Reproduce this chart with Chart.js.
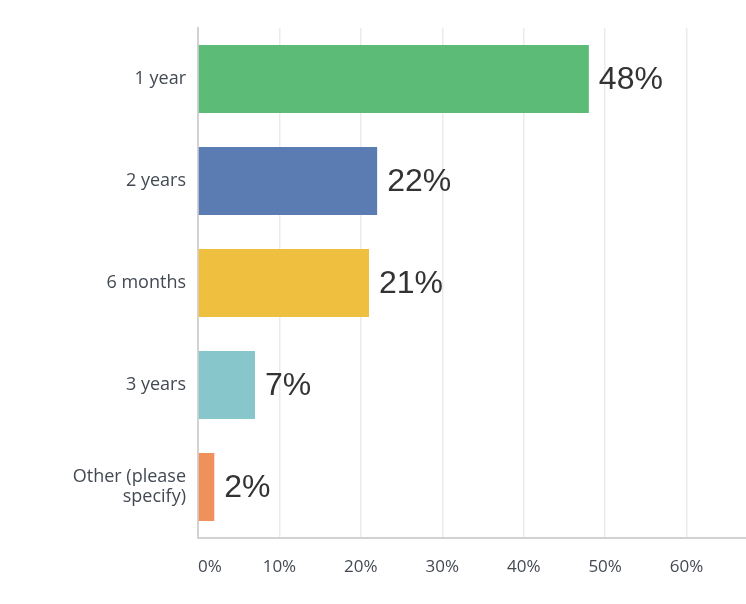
<!DOCTYPE html>
<html>
<head>
<meta charset="utf-8">
<script src="https://cdn.jsdelivr.net/npm/chart.js@4/dist/chart.umd.min.js"></script>
<style>
  html, body { margin: 0; padding: 0; background: #fff; }
  #wrap { width: 746px; height: 604px; position: relative; }
</style>
</head>
<body>
<div id="wrap"><canvas id="c" width="746" height="604"></canvas></div>
<script>
const categories = ["1 year", "2 years", "6 months", "3 years", ["Other (please", "specify)"]];
const percentages = [48, 22, 21, 7, 2];
const barColors = ["#5cbb77", "#5a7cb2", "#efbf3f", "#87c7cc", "#f0905a"];
const xTickValues = [0, 10, 20, 30, 40, 50, 60];
const xMax = 67.3;

const valueLabels = {
  id: 'valueLabels',
  afterDatasetsDraw(chart) {
    const ctx = chart.ctx;
    const meta = chart.getDatasetMeta(0);
    ctx.save();
    ctx.font = '32px "Liberation Sans", Arial, sans-serif';
    ctx.fillStyle = '#333333';
    ctx.textAlign = 'left';
    ctx.textBaseline = 'middle';
    meta.data.forEach((el, i) => {
      ctx.fillText(percentages[i] + '%', el.x + 10, el.y + 1);
    });
    ctx.restore();
  }
};

new Chart(document.getElementById('c'), {
  type: 'bar',
  data: {
    labels: categories,
    datasets: [{
      data: percentages,
      backgroundColor: barColors,
      borderWidth: 0,
      barPercentage: 0.665,
      categoryPercentage: 1
    }]
  },
  options: {
    indexAxis: 'y',
    responsive: false,
    animation: false,
    devicePixelRatio: 1,
    layout: { padding: { top: 28, left: 0, right: 0, bottom: 0 } },
    plugins: { legend: { display: false }, tooltip: { enabled: false } },
    scales: {
      x: {
        min: 0,
        max: xMax,
        afterBuildTicks(scale) {
          scale.ticks = xTickValues.map(v => ({ value: v })).concat([{ value: xMax }]);
        },
        afterFit(scale) {
          scale.height = 66;
          scale.paddingLeft = 0;
          scale.paddingRight = 0;
        },
        grid: {
          drawTicks: false,
          color: (c) => (c.tick && c.tick.value === xMax) ? 'rgba(0,0,0,0)' : '#ebebeb',
          lineWidth: 1.5
        },
        border: { display: true, color: '#d2d2d2', width: 2 },
        ticks: {
          autoSkip: false,
          maxRotation: 0,
          align: 'inner',
          padding: 19,
          color: '#434953',
          font: { family: '"Open Sans", sans-serif', size: 17 },
          callback: (v) => (v === xMax ? '' : v + '%')
        }
      },
      y: {
        afterFit(scale) {
          scale.width = 198;
          scale.paddingTop = 0;
          scale.paddingBottom = 0;
        },
        grid: { display: false, drawTicks: false },
        border: { display: true, color: '#d2d2d2', width: 2 },
        ticks: {
          padding: 12,
          color: '#434953',
          font: { family: '"Open Sans", sans-serif', size: 18, lineHeight: 1.15 }
        }
      }
    }
  },
  plugins: [valueLabels]
});
</script>
</body>
</html>
